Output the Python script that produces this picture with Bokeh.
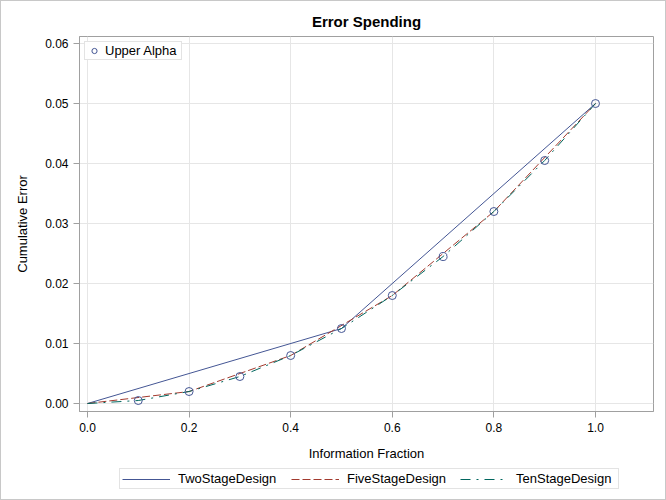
from bokeh.plotting import figure
from bokeh.models import Range1d, Legend, LegendItem, FixedTicker, NumeralTickFormatter
from bokeh.layouts import column
from bokeh.embed import file_html
from bokeh.resources import INLINE

# Data
two_x = [0.0, 0.5, 1.0]
two_y = [0.0, 0.0125, 0.05]
five_x = [0.0, 0.2, 0.4, 0.6, 0.8, 1.0]
five_y = [0.0, 0.002, 0.008, 0.018, 0.032, 0.05]
ten_x = [0.0, 0.1, 0.2, 0.3, 0.4, 0.5, 0.6, 0.7, 0.8, 0.9, 1.0]
ten_y = [0.0, 0.0005, 0.002, 0.0045, 0.008, 0.0125, 0.018, 0.0245, 0.032, 0.0405, 0.05]
alpha_x = [0.1, 0.2, 0.3, 0.4, 0.5, 0.6, 0.7, 0.8, 0.9, 1.0]
alpha_y = [0.0005, 0.002, 0.0045, 0.008, 0.0125, 0.018, 0.0245, 0.032, 0.0405, 0.05]
x_ticks = [0.0, 0.2, 0.4, 0.6, 0.8, 1.0]
y_ticks = [0.0, 0.01, 0.02, 0.03, 0.04, 0.05, 0.06]
series_names = ["TwoStageDesign", "FiveStageDesign", "TenStageDesign"]

FONT = "Liberation Sans"
C1, C2, C3 = "#445694", "#A23A2E", "#01665E"
DASH2, DASH3 = "8 3", "10 6 2 6"

p = figure(width=664, height=463, output_backend="svg", toolbar_location=None,
           x_range=Range1d(-0.0157, 1.1142), y_range=Range1d(-0.00133, 0.06117),
           min_border_left=78, min_border_right=12, min_border_top=35, min_border_bottom=53)
p.background_fill_color = "white"
p.border_fill_color = "white"
p.outline_line_color = "#a0a0a0"

p.title.text = "Error Spending"
p.title.align = "center"
p.title.text_font = FONT
p.title.text_font_size = "15px"
p.title.text_font_style = "bold"
p.title.text_color = "black"
p.title.standoff = 14

for ax in (p.xaxis[0], p.yaxis[0]):
    ax.axis_line_color = "#a0a0a0"
    ax.major_tick_line_color = "#a0a0a0"
    ax.major_tick_out = 6
    ax.major_tick_in = 0
    ax.minor_tick_line_color = None
    ax.major_label_text_font = FONT
    ax.major_label_text_font_size = "12px"
    ax.major_label_text_color = "black"
    ax.axis_label_text_font = FONT
    ax.axis_label_text_font_size = "13px"
    ax.axis_label_text_font_style = "normal"
    ax.axis_label_text_color = "black"

p.xaxis.ticker = FixedTicker(ticks=x_ticks)
p.yaxis.ticker = FixedTicker(ticks=y_ticks)
p.xaxis.formatter = NumeralTickFormatter(format="0.0")
p.yaxis.formatter = NumeralTickFormatter(format="0.00")
p.xaxis.axis_label = "Information Fraction"
p.yaxis.axis_label = "Cumulative Error"
p.xaxis.axis_label_standoff = 11
p.yaxis.axis_label_standoff = 12

p.grid.grid_line_color = "#e6e6e6"

p.line(two_x, two_y, line_color=C1, line_width=1)
p.line(five_x, five_y, line_color=C2, line_width=1, line_dash=DASH2)
p.line(ten_x, ten_y, line_color=C3, line_width=1, line_dash=DASH3)
r_alpha = p.scatter(alpha_x, alpha_y, marker="circle", size=8, line_color=C1,
                    fill_color=None, line_width=1)

leg_top = Legend(items=[LegendItem(label="Upper Alpha", renderers=[r_alpha])],
                 location="top_left", margin=5, padding=1, spacing=0,
                 glyph_width=16, glyph_height=13, label_height=13, label_standoff=3,
                 label_width=75, label_text_font=FONT, label_text_font_size="13px",
                 label_text_color="black", border_line_color="#c8c8c8")
p.add_layout(leg_top)

# legend strip below the plot (its key lines lie outside its visible range)
p2 = figure(width=664, height=35, output_backend="svg", toolbar_location=None,
            x_range=Range1d(10, 11), y_range=Range1d(10, 11),
            x_axis_location=None, y_axis_location=None, min_border=0)
p2.outline_line_color = None
p2.grid.visible = False
k_two = p2.line(two_x, two_y, line_color=C1, line_width=1)
k_five = p2.line(five_x, five_y, line_color=C2, line_width=1, line_dash=DASH2)
k_ten = p2.line(ten_x, ten_y, line_color=C3, line_width=1, line_dash=DASH3)
leg_bot = Legend(items=[LegendItem(label=series_names[0], renderers=[k_two]),
                        LegendItem(label=series_names[1], renderers=[k_five]),
                        LegendItem(label=series_names[2], renderers=[k_ten])],
                 orientation="horizontal", location=(40, 10), margin=0, padding=2,
                 spacing=13, glyph_width=48, glyph_height=12, label_height=12,
                 label_standoff=8, label_width=100, label_text_font=FONT,
                 label_text_font_size="13px", label_text_color="black",
                 border_line_color="#c8c8c8")
p2.add_layout(leg_bot)

layout = column(p, p2, spacing=0, styles={"border": "1px solid #c8c8c8"})
open("out.html", "w").write(file_html(layout, INLINE))
